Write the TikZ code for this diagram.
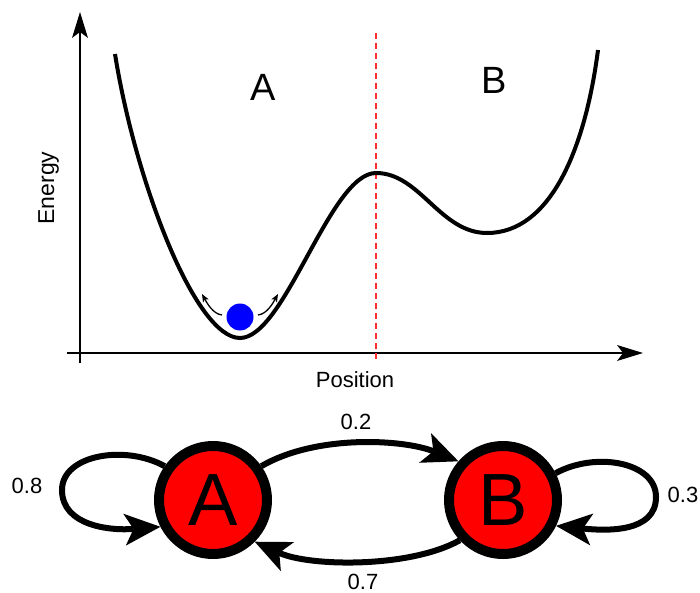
\documentclass[tikz,border=0pt]{standalone}
\usepackage{fontspec}
\setmainfont{Liberation Sans}
\usetikzlibrary{arrows.meta}
\definecolor{dashred}{RGB}{255,45,45}
\definecolor{statered}{RGB}{255,0,0}
\definecolor{ballblue}{RGB}{0,0,255}
\begin{document}
\begin{tikzpicture}[x=1pt,y=-1pt,
  lbl/.style={font=\fontsize{22}{26}\selectfont, inner sep=0pt, anchor=base},
  biglbl/.style={font=\fontsize{38}{44}\selectfont, inner sep=0pt, anchor=base},
  axisline/.style={line width=2pt, -{Stealth[length=26pt,width=16pt,inset=6pt,line width=0pt]}},
  energycurve/.style={line width=4pt},
  boundary/.style={draw=dashred, line width=2pt, dash pattern=on 6pt off 4pt},
  statenode/.style={circle, draw=black, line width=10pt, fill=statered, minimum size=108pt, inner sep=0pt, font=\fontsize{74}{80}\selectfont},
  edgearrow/.style={line width=6pt, -{Stealth[length=36pt,width=32pt,inset=9pt,line width=0pt]}},
  smallarrow/.style={line width=1.3pt, -{Stealth[length=8pt,width=6.5pt,inset=2pt,line width=0pt]}},
  ballnode/.style={circle, fill=ballblue, minimum size=27pt, inner sep=0pt}
]
\useasboundingbox (0,0) rectangle (700,593);

% axes
\coordinate (yb) at (80,363);
\coordinate (yt) at (80,12);
\coordinate (xl) at (67,353);
\coordinate (xr) at (643,353);
\draw[axisline] (yb) -- (yt);
\draw[axisline] (xl) -- (xr);

% dashed boundary
\coordinate (dtop) at (376,33);
\coordinate (dbot) at (376,360);
\draw[boundary] (dtop) -- (dbot);

% energy curve
\coordinate (e0) at (115,54);
\coordinate (e1) at (240,338);
\coordinate (e2) at (376,173);
\coordinate (e3) at (487,233);
\coordinate (e4) at (598,50);
\draw[energycurve] (e0) .. controls (135,180) and (195,338) .. (e1)
  .. controls (285,338) and (330,173) .. (e2)
  .. controls (420,173) and (440,233) .. (e3)
  .. controls (550,233) and (585,150) .. (e4);

% ball with small arrows
\node[ballnode] (ball) at (240,317) {};
\coordinate (ls) at (222,315);
\coordinate (lt) at (202,294);
\coordinate (rs) at (258,315);
\coordinate (rt) at (278,294);
\draw[smallarrow] (ls) .. controls +(-9,-1) and +(5,9) .. (lt);
\draw[smallarrow] (rs) .. controls +(9,-1) and +(-5,9) .. (rt);

% labels
\node[biglbl] (lA) at (263,101) {A};
\node[biglbl] (lB) at (494,94) {B};
\node[lbl] (pos) at (355,387) {Position};
\node[lbl, font=\fontsize{23}{27}\selectfont, rotate=90] (en) at (54,188) {Energy};

% Markov chain
\node[statenode] (A) at (213,500) {A};
\node[statenode] (B) at (503,500) {B};
\coordinate (la) at (62,490);
\coordinate (lb) at (656,497);
\draw[edgearrow] (A.145) .. controls +(-40,-22) and +(0,-35) .. (la)
  .. controls +(0,36) and +(-50,4) .. (A.207);
\draw[edgearrow] (B.27) .. controls +(40,-22) and +(0,-35) .. (lb)
  .. controls +(0,36) and +(50,5) .. (B.-26);
\draw[edgearrow] (A.35) .. controls +(55,-32) and +(-55,-22) .. (B.139);
\draw[edgearrow] (B.223) .. controls +(-50,28) and +(55,25) .. (A.315);

\node[lbl] (p02) at (356,429) {0.2};
\node[lbl] (p08) at (27,493) {0.8};
\node[lbl] (p03) at (683,502) {0.3};
\node[lbl] (p07) at (363,589) {0.7};
\end{tikzpicture}
\end{document}
